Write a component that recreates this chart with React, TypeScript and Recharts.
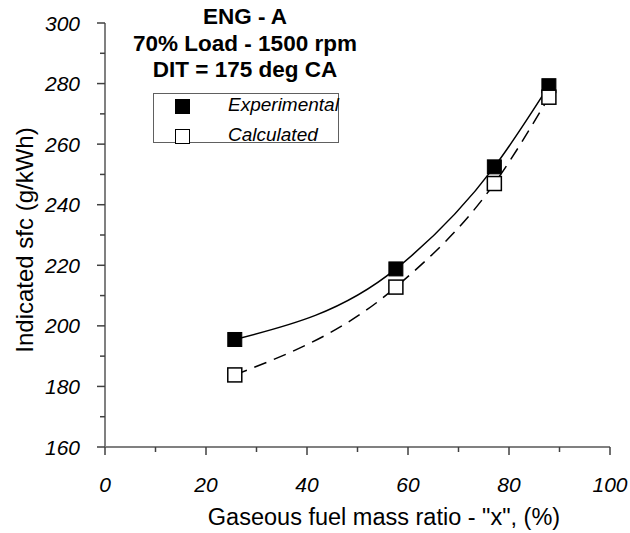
import { ComposedChart, Line, Scatter, XAxis, YAxis } from "recharts";

const xValues = [25.7, 57.6, 77.1, 87.9];
const experimental = [195.5, 218.8, 252.5, 279.3];
const calculated = [183.8, 212.8, 247.0, 275.5];
const xTicks = [0, 10, 20, 30, 40, 50, 60, 70, 80, 90, 100];
const yTicks = [160, 170, 180, 190, 200, 210, 220, 230, 240, 250, 260, 270, 280, 290, 300];
const titleLines = ["ENG - A", "70% Load - 1500 rpm", "DIT = 175 deg CA"];

const FONT = "Arial, 'Liberation Sans', sans-serif";
const AXIS = "#808080";

const expData = xValues.map((x, i) => ({ x, y: experimental[i] }));
const calcData = xValues.map((x, i) => ({ x, y: calculated[i] }));

function XTick({ x, y, payload }: any) {
  const major = payload.value % 20 === 0;
  return (
    <g>
      <line x1={x} x2={x} y1={y} y2={y + (major ? 8 : 5)} stroke="#404040" strokeWidth={1.5} />
      {major && (
        <text x={x} y={y + 45} textAnchor="middle" fontStyle="italic" fontSize={21} fontFamily={FONT} fill="#000">
          {payload.value}
        </text>
      )}
    </g>
  );
}

function YTick({ x, y, payload }: any) {
  const major = payload.value % 20 === 0;
  return (
    <g>
      <line x1={x} x2={x - (major ? 8 : 5)} y1={y} y2={y} stroke="#404040" strokeWidth={1.5} />
      {major && (
        <text x={x - 25} y={y + 7.5} textAnchor="end" fontStyle="italic" fontSize={21} fontFamily={FONT} fill="#000">
          {payload.value}
        </text>
      )}
    </g>
  );
}

const filledSquare = (p: any) => (
  <rect x={p.cx - 7} y={p.cy - 7} width={14} height={14} fill="#000" stroke="#000" strokeWidth={1} />
);
const openSquare = (p: any) => (
  <rect x={p.cx - 7} y={p.cy - 7} width={14} height={14} fill="#fff" stroke="#000" strokeWidth={1.5} />
);

export default function App() {
  return (
    <div style={{ position: "absolute", left: 0, top: 0, width: 630, height: 533, background: "#fff", fontFamily: FONT }}>
      <ComposedChart width={630} height={533} margin={{ top: 23, right: 20, bottom: 0, left: 0 }}>
        <XAxis
          dataKey="x"
          type="number"
          domain={[0, 100]}
          ticks={xTicks}
          interval={0}
          height={86}
          tickSize={0}
          tickMargin={0}
          tickLine={false}
          axisLine={{ stroke: AXIS, strokeWidth: 2 }}
          tick={<XTick />}
          label={{
            content: () => (
              <text x={384} y={525} textAnchor="middle" fontSize={23.5} fontFamily={FONT} fill="#000">
                Gaseous fuel mass ratio - "x", (%)
              </text>
            ),
          }}
        />
        <YAxis
          dataKey="y"
          type="number"
          domain={[160, 300]}
          ticks={yTicks}
          interval={0}
          width={105}
          tickSize={0}
          tickMargin={0}
          tickLine={false}
          axisLine={{ stroke: AXIS, strokeWidth: 2 }}
          tick={<YTick />}
          label={{
            content: () => (
              <text
                x={33}
                y={240}
                transform="rotate(-90 33 240)"
                textAnchor="middle"
                fontSize={24}
                fontFamily={FONT}
                fill="#000"
              >
                Indicated sfc (g/kWh)
              </text>
            ),
          }}
        />
        <Scatter data={expData} dataKey="y" shape={filledSquare} isAnimationActive={false} />
        <Scatter data={calcData} dataKey="y" shape={openSquare} isAnimationActive={false} />
        <Line data={expData} dataKey="y" type="monotone" stroke="#000" strokeWidth={1.5} dot={false} activeDot={false} isAnimationActive={false} />
        <Line
          data={calcData}
          dataKey="y"
          type="monotone"
          stroke="#000"
          strokeWidth={1.5}
          strokeDasharray="13 8"
          dot={false}
          activeDot={false}
          isAnimationActive={false}
        />
      </ComposedChart>

      <div style={{ position: "absolute", left: 115, top: 4, width: 260, textAlign: "center", fontWeight: "bold", fontSize: 22.5, lineHeight: "26.5px" }}>
        {titleLines.map((t) => (
          <div key={t}>{t}</div>
        ))}
      </div>

      <div
        style={{
          position: "absolute",
          left: 153,
          top: 93,
          width: 184,
          height: 48,
          border: "1px solid #606060",
          fontStyle: "italic",
          fontSize: 19,
        }}
      >
        {[
          { name: "Experimental", fill: "#000" },
          { name: "Calculated", fill: "#fff" },
        ].map((d, i) => (
          <div key={d.name} style={{ position: "absolute", left: 0, top: 2 + i * 30, height: 20, display: "flex", alignItems: "center" }}>
            <span
              style={{
                position: "absolute",
                left: 21,
                top: 3,
                width: 13,
                height: 13,
                background: d.fill,
                border: "1.5px solid #000",
              }}
            />
            <span style={{ position: "absolute", left: 74, top: -1, whiteSpace: "nowrap", lineHeight: "20px" }}>{d.name}</span>
          </div>
        ))}
      </div>
    </div>
  );
}
